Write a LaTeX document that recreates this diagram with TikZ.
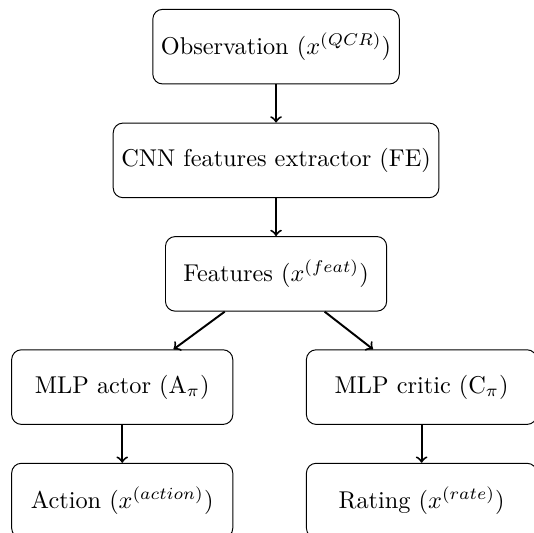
\documentclass[tikz,border=0pt]{standalone}
\begin{document}
\begin{tikzpicture}[
	box/.style = {draw, rounded corners, minimum width=91pt, minimum height=30.7pt},
	arr/.style = {->, thick}]
	
	\def \cx {113.6pt}
	\def \lx {50.3pt}
	\def \rx {173.5pt}
	
	\useasboundingbox (0,0) rectangle (219.75pt,-219.34pt);
	
	\node[box] (obs) at (\cx,-19.2pt) {Observation ($x^{(QCR)}$)};
	\node[box] (fe) at (\cx,-66pt) {CNN features extractor (FE)};
	\node[box] (feat) at (\cx,-112.7pt) {Features ($x^{(feat)}$)};
	\node[box] (actor) at (\lx,-159.3pt) {MLP actor (A$_\pi$)};
	\node[box, minimum width=94.8pt] (critic) at (\rx,-159.3pt) {MLP critic (C$_\pi$)};
	\node[box] (action) at (\lx,-206pt) {Action ($x^{(action)}$)};
	\node[box, minimum width=94.8pt] (rating) at (\rx,-206pt) {Rating ($x^{(rate)}$)};
	
	\draw[arr] (obs) -- (fe);
	\draw[arr] (fe) -- (feat);
	\draw[arr] (feat) -- (actor);
	\draw[arr] (feat) -- (critic);
	\draw[arr] (actor) -- (action);
	\draw[arr] (critic) -- (rating);
\end{tikzpicture}
\end{document}
